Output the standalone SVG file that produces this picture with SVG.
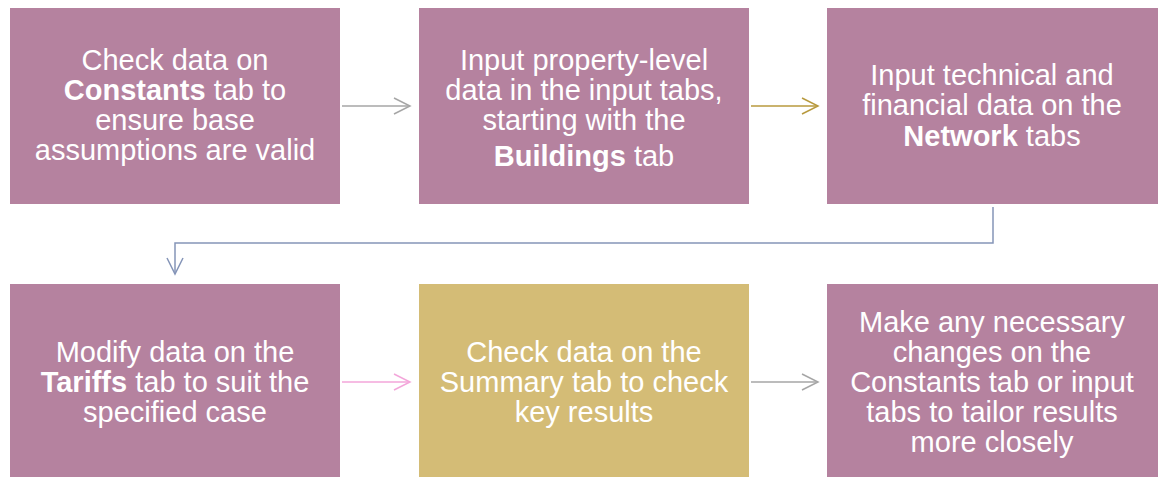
<svg xmlns="http://www.w3.org/2000/svg" width="1163" height="477" viewBox="0 0 1163 477">
<style>
.box{fill:#B5829F;}
.gold{fill:#D4BC76;}
text{font-family:"Liberation Sans",Arial,sans-serif;font-size:29px;fill:#FFFFFF;text-anchor:middle;}
.b{font-weight:bold;}
.conn{fill:none;stroke-width:1.5;}
</style>
<defs>
<marker id="ah-gray" markerUnits="userSpaceOnUse" markerWidth="20" markerHeight="20" refX="17" refY="9" orient="auto" viewBox="0 0 20 20"><path d="M1,1 L17,9 L1,17" fill="none" stroke="#A6A6A6" stroke-width="1.5"/></marker>
<marker id="ah-gold" markerUnits="userSpaceOnUse" markerWidth="20" markerHeight="20" refX="17" refY="9" orient="auto" viewBox="0 0 20 20"><path d="M1,1 L17,9 L1,17" fill="none" stroke="#B89A3E" stroke-width="1.5"/></marker>
<marker id="ah-blue" markerUnits="userSpaceOnUse" markerWidth="20" markerHeight="20" refX="17" refY="9" orient="auto" viewBox="0 0 20 20"><path d="M1,1 L17,9 L1,17" fill="none" stroke="#8595B8" stroke-width="1.5"/></marker>
<marker id="ah-pink" markerUnits="userSpaceOnUse" markerWidth="20" markerHeight="20" refX="17" refY="9" orient="auto" viewBox="0 0 20 20"><path d="M1,1 L17,9 L1,17" fill="none" stroke="#F3A6DA" stroke-width="1.5"/></marker>
</defs>

<g id="connectors">
<line class="conn" x1="342" y1="106" x2="410" y2="106" stroke="#A6A6A6" marker-end="url(#ah-gray)"/>
<line class="conn" x1="751" y1="106" x2="818" y2="106" stroke="#B89A3E" marker-end="url(#ah-gold)"/>
<polyline class="conn" points="993,207 993,243 175,243 175,274" stroke="#8595B8" marker-end="url(#ah-blue)"/>
<line class="conn" x1="342" y1="382" x2="410" y2="382" stroke="#F3A6DA" marker-end="url(#ah-pink)"/>
<line class="conn" x1="751" y1="382" x2="818" y2="382" stroke="#A6A6A6" marker-end="url(#ah-gray)"/>
</g>

<g id="node1">
<rect class="box" x="10" y="8" width="330" height="196"/>
<text x="175" y="70">Check data on</text>
<text x="175" y="100"><tspan class="b">Constants</tspan> tab to</text>
<text x="175" y="130">ensure base</text>
<text x="175" y="160">assumptions are valid</text>
</g>

<g id="node2">
<rect class="box" x="419" y="8" width="330" height="196"/>
<text x="584" y="70">Input property-level</text>
<text x="584" y="100">data in the input tabs,</text>
<text x="584" y="130">starting with the</text>
<text x="584" y="166"><tspan class="b">Buildings</tspan> tab</text>
</g>

<g id="node3">
<rect class="box" x="827" y="8" width="331" height="196"/>
<text x="992" y="85">Input technical and</text>
<text x="992" y="115">financial data on the</text>
<text x="992" y="146"><tspan class="b">Network</tspan> tabs</text>
</g>

<g id="node4">
<rect class="box" x="10" y="284" width="330" height="193"/>
<text x="175" y="362">Modify data on the</text>
<text x="175" y="392"><tspan class="b">Tariffs</tspan> tab to suit the</text>
<text x="175" y="422">specified case</text>
</g>

<g id="node5">
<rect class="gold" x="419" y="284" width="330" height="193"/>
<text x="584" y="362">Check data on the</text>
<text x="584" y="392">Summary tab to check</text>
<text x="584" y="422">key results</text>
</g>

<g id="node6">
<rect class="box" x="827" y="284" width="331" height="193"/>
<text x="992" y="332">Make any necessary</text>
<text x="992" y="362">changes on the</text>
<text x="992" y="392">Constants tab or input</text>
<text x="992" y="422">tabs to tailor results</text>
<text x="992" y="452">more closely</text>
</g>
</svg>
